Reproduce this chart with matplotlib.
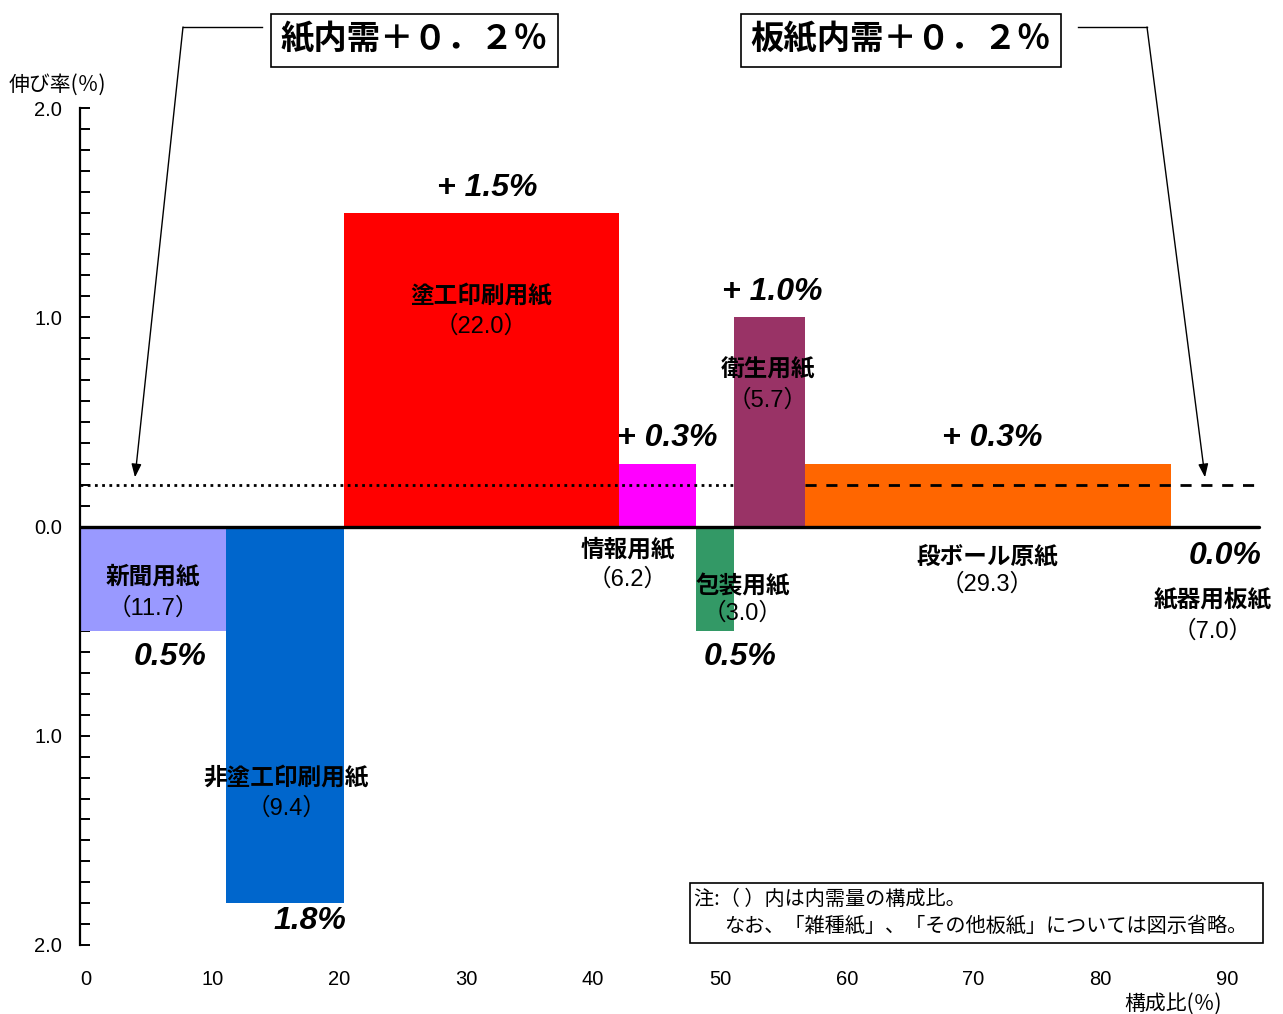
import numpy as np
import matplotlib.pyplot as plt
from matplotlib.ticker import MultipleLocator, FuncFormatter
from matplotlib.lines import Line2D

# 品種別 内需の伸び率(%) と 構成比(%)
names = ['新聞用紙', '非塗工印刷用紙', '塗工印刷用紙', '情報用紙', '包装用紙',
         '衛生用紙', '段ボール原紙', '紙器用板紙']
shares = [11.7, 9.4, 22.0, 6.2, 3.0, 5.7, 29.3, 7.0]
growth = [-0.5, -1.8, 1.5, 0.3, -0.5, 1.0, 0.3, 0.0]
colors = ['#9999FF', '#0066CC', '#FF0000', '#FF00FF', '#339966',
          '#993366', '#FF6600', '#FFFFFF']
growth_labels = ['0.5%', '1.8%', '+ 1.5%', '+ 0.3%', '0.5%', '+ 1.0%', '+ 0.3%', '0.0%']

# ラベル位置 (データ座標)
name_pos = [(5.85, -0.24), (16.5, -1.2), (32.1, 1.10), (43.8, -0.115),
            (53.0, -0.286), (55.0, 0.75), (72.6, -0.143), (90.6, -0.35)]
share_dy = [-0.15, -0.15, -0.145, -0.14, -0.13, -0.15, -0.135, -0.15]
growth_pos = [(7.2, -0.625), (18.4, -1.885), (32.6, 1.62), (47.0, 0.425),
              (52.8, -0.625), (55.4, 1.12), (73.0, 0.425), (91.6, -0.143)]

paper_total = 0.2
board_total = 0.2

CJK = ['Noto Sans CJK JP', 'DejaVu Sans']
NUM = ['Liberation Sans', 'Noto Sans CJK JP']
plt.rcParams['font.family'] = CJK


def zenkaku(s):
    return s.translate(str.maketrans('0123456789.%+', '０１２３４５６７８９．％＋'))


W, H = 1283, 1014
fig = plt.figure(figsize=(W / 100, H / 100), dpi=100)
ax = fig.add_axes([80 / W, (H - 945) / H, (1262 - 80) / W, (945 - 108) / H])

left = np.concatenate([[0], np.cumsum(shares)[:-1]])
for i in range(len(shares) - 1):
    ax.bar(left[i], growth[i], width=shares[i], align='edge', color=colors[i],
           edgecolor='none', zorder=2)

total = float(np.sum(shares))
ax.set_xlim(0, 94.56)
ax.set_ylim(-2, 2)

# 基準線
ax.plot([0, total], [0, 0], color='black', lw=2.4, zorder=4, solid_capstyle='round')
ax.plot([0, left[5]], [paper_total, paper_total], color='black', lw=2, ls=(0, (1, 1.6)),
        zorder=3)
ax.plot([left[6], 94.56], [board_total, board_total], color='black', lw=2,
        ls=(0, (4, 3.5)), zorder=3)

for sp in ['top', 'right', 'bottom']:
    ax.spines[sp].set_visible(False)
ax.spines['left'].set_linewidth(1.6)
ax.set_xticks([])
ax.yaxis.set_major_locator(MultipleLocator(1.0))
ax.yaxis.set_minor_locator(MultipleLocator(0.1))
ax.yaxis.set_major_formatter(FuncFormatter(lambda v, p: f'{abs(v):.1f}'))
ax.tick_params(axis='y', which='both', direction='in', length=7, width=1.4, pad=13,
               labelsize=14.5, labelfontfamily='Liberation Sans')

# 横軸目盛り
ax2 = ax.twiny()
ax2.xaxis.set_ticks_position('bottom')
ax2.set_xlim(-0.47, 92.75)
ax2.set_xticks(np.arange(0, 91, 10))
ax2.tick_params(axis='x', length=0, pad=18, labelsize=14.5,
                labelfontfamily='Liberation Sans')
for sp in ax2.spines.values():
    sp.set_visible(False)

# 品種ラベル
for i, n in enumerate(names):
    x, y = name_pos[i]
    ax.text(x, y, n, ha='center', va='center', fontsize=17, fontweight='bold',
            family=CJK, zorder=5)
    ax.text(x, y + share_dy[i], f'（{shares[i]:.1f}）', ha='center', va='center',
            fontsize=17, family=NUM, zorder=5)
    gx, gy = growth_pos[i]
    ax.text(gx, gy, growth_labels[i], ha='center', va='center', fontsize=23,
            fontweight='bold', fontstyle='italic', family=['Liberation Sans'], zorder=5)

# 見出しボックス
box = dict(boxstyle='square,pad=0.3', facecolor='white', edgecolor='black', lw=1.2)
fig.text(414 / W, 1 - 40 / H, '紙内需' + zenkaku(f'+{paper_total:.1f}%'),
         ha='center', va='center', fontsize=24, fontweight='bold', bbox=box)
fig.text(901 / W, 1 - 40 / H, '板紙内需' + zenkaku(f'+{board_total:.1f}%'),
         ha='center', va='center', fontsize=24, fontweight='bold', bbox=box)

# 矢印
fig.add_artist(Line2D([262 / W, 183 / W], [1 - 27 / H, 1 - 27 / H], color='black', lw=1))
fig.add_artist(Line2D([1078 / W, 1147 / W], [1 - 27 / H, 1 - 27 / H], color='black', lw=1))
ax.annotate('', xy=(4.4, 0.235), xycoords='data', xytext=(183, H - 27),
            textcoords='figure pixels',
            arrowprops=dict(arrowstyle='-|>,head_length=0.8,head_width=0.3', color='black',
                            lw=1, shrinkA=0, shrinkB=0), annotation_clip=False)
ax.annotate('', xy=(90.0, 0.235), xycoords='data', xytext=(1147, H - 27),
            textcoords='figure pixels',
            arrowprops=dict(arrowstyle='-|>,head_length=0.8,head_width=0.3', color='black',
                            lw=1, shrinkA=0, shrinkB=0), annotation_clip=False)

# 軸タイトル
fig.text(57 / W, 1 - 85 / H, '伸び率(％)', ha='center', va='center', fontsize=15)
fig.text(1173 / W, 1 - 1004 / H, '構成比(％)', ha='center', va='center', fontsize=15)

# 注記
fig.add_artist(plt.Rectangle((690 / W, 1 - 943 / H), (1263 - 690) / W, 60 / H,
                             fill=False, edgecolor='black', lw=1.2))
fig.text(694 / W, 1 - 899 / H, '注:（ ）内は内需量の構成比。', ha='left', va='center',
         fontsize=14.5)
fig.text(724 / W, 1 - 926 / H, 'なお、「雑種紙」、「その他板紙」については図示省略。',
         ha='left', va='center', fontsize=14.5)

fig.savefig('out.png', dpi=100)
